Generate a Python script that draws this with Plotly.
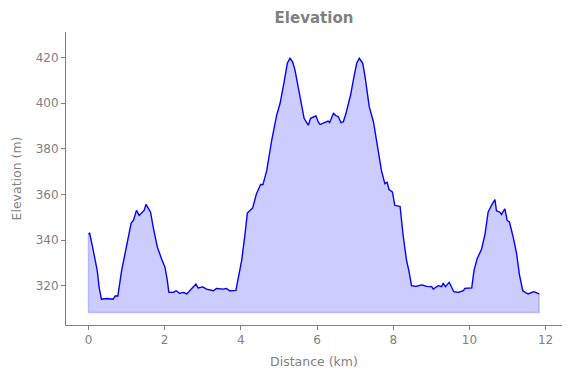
import plotly.graph_objects as go

distance_km = [0.00, 0.03, 0.10, 0.17, 0.23, 0.28, 0.34, 0.48, 0.65, 0.70, 0.77, 0.87, 1.00, 1.12, 1.18,
               1.26, 1.33, 1.40, 1.46, 1.51, 1.57, 1.63, 1.70, 1.81, 1.92, 2.01, 2.07, 2.11, 2.23, 2.30,
               2.39, 2.50, 2.58, 2.71, 2.82, 2.88, 3.00, 3.10, 3.28, 3.36, 3.54, 3.62, 3.71, 3.87, 4.02,
               4.11, 4.17, 4.31, 4.41, 4.52, 4.58, 4.68, 4.81, 4.94, 5.03, 5.13, 5.22, 5.29, 5.36, 5.42,
               5.55, 5.66, 5.77, 5.83, 5.97, 6.03, 6.08, 6.20, 6.29, 6.33, 6.43, 6.50, 6.56, 6.63, 6.69,
               6.76, 6.82, 6.88, 6.97, 7.04, 7.11, 7.20, 7.26, 7.37, 7.48, 7.61, 7.69, 7.78, 7.84, 7.89,
               7.98, 8.04, 8.18, 8.26, 8.35, 8.41, 8.48, 8.60, 8.75, 8.88, 9.01, 9.05, 9.18, 9.27, 9.31,
               9.37, 9.47, 9.59, 9.71, 9.84, 9.88, 10.06, 10.12, 10.20, 10.32, 10.41, 10.49, 10.58, 10.67,
               10.71, 10.80, 10.84, 10.93, 10.99, 11.05, 11.15, 11.24, 11.31, 11.40, 11.54, 11.63, 11.69, 11.83]

elevation_m = [342.7, 343.0, 337.6, 332.4, 326.6, 319.3, 314.1, 314.4, 314.1, 315.5, 315.5, 326.6, 338.3, 347.4, 348.6,
               353.0, 350.8, 352.2, 353.0, 355.6, 354.1, 352.2, 345.6, 336.8, 331.7, 328.0, 322.2, 317.1, 317.1, 317.8,
               316.7, 317.1, 316.4, 318.5, 320.7, 319.0, 319.5, 318.5, 317.8, 318.8, 318.5, 318.8, 317.8, 318.0, 331.0,
               342.7, 351.8, 354.1, 360.3, 364.4, 364.3, 370.5, 383.7, 394.7, 399.9, 408.7, 417.4, 419.6, 417.9, 414.5,
               402.8, 393.3, 390.3, 393.3, 394.4, 391.8, 390.6, 391.4, 392.1, 391.4, 395.5, 394.4, 394.0, 391.4, 391.8,
               395.5, 399.9, 403.5, 411.6, 417.4, 419.6, 417.4, 411.6, 398.4, 391.8, 379.3, 370.5, 364.7, 365.3, 362.1,
               361.0, 355.2, 354.7, 342.0, 331.0, 326.6, 320.0, 319.7, 320.4, 319.7, 319.6, 318.5, 320.0, 319.6, 321.1,
               319.6, 321.5, 317.4, 317.1, 317.8, 318.8, 319.0, 326.6, 331.7, 336.1, 342.7, 352.2, 355.2, 357.7,
               352.8, 352.2, 351.2, 353.7, 348.6, 347.9, 341.2, 333.9, 325.1, 317.8, 316.4, 317.1, 317.4, 316.4]

fill_base = 308.3
x_ticks = [0, 2, 4, 6, 8, 10, 12]
y_ticks = [320, 340, 360, 380, 400, 420]
x_range = [-0.59, 12.43]
y_range = [302.8, 431.1]

GRAY = "#808080"

poly_x = distance_km + [distance_km[-1], distance_km[0], distance_km[0]]
poly_y = elevation_m + [fill_base, fill_base, elevation_m[0]]

fig = go.Figure()
fig.add_trace(go.Scatter(x=poly_x, y=poly_y, mode="lines", fill="toself",
                         fillcolor="rgba(0,0,255,0.2)",
                         line=dict(color="rgba(0,0,255,0.2)", width=1.5),
                         hoverinfo="skip", showlegend=False))
fig.add_trace(go.Scatter(x=distance_km, y=elevation_m, mode="lines",
                         line=dict(color="#0000ff", width=1.3), showlegend=False))

axis_common = dict(showgrid=False, zeroline=False, showline=True, linecolor=GRAY, linewidth=1,
                   ticks="outside", ticklen=4, tickcolor=GRAY, tickwidth=1,
                   tickfont=dict(family="DejaVu Sans", size=12, color=GRAY),
                   mirror=False)

W, H = 563, 370
fig.update_layout(
    width=W, height=H,
    margin=dict(l=58, r=9, t=24, b=53),
    paper_bgcolor="white", plot_bgcolor="white",
    title=dict(text="<b>Elevation</b>", x=306 / W, xanchor="center", y=1 - 10 / H, yanchor="middle",
               font=dict(family="DejaVu Sans", size=15, color=GRAY)),
    xaxis=dict(range=x_range, tickvals=x_ticks,
               title=dict(text="Distance (km)", font=dict(family="DejaVu Sans", size=12.5, color=GRAY), standoff=10),
               **axis_common),
    yaxis=dict(range=y_range, tickvals=y_ticks,
               title=dict(text="Elevation (m)", font=dict(family="DejaVu Sans", size=12.5, color=GRAY), standoff=11),
               **axis_common),
)

fig.write_html("out.html")
